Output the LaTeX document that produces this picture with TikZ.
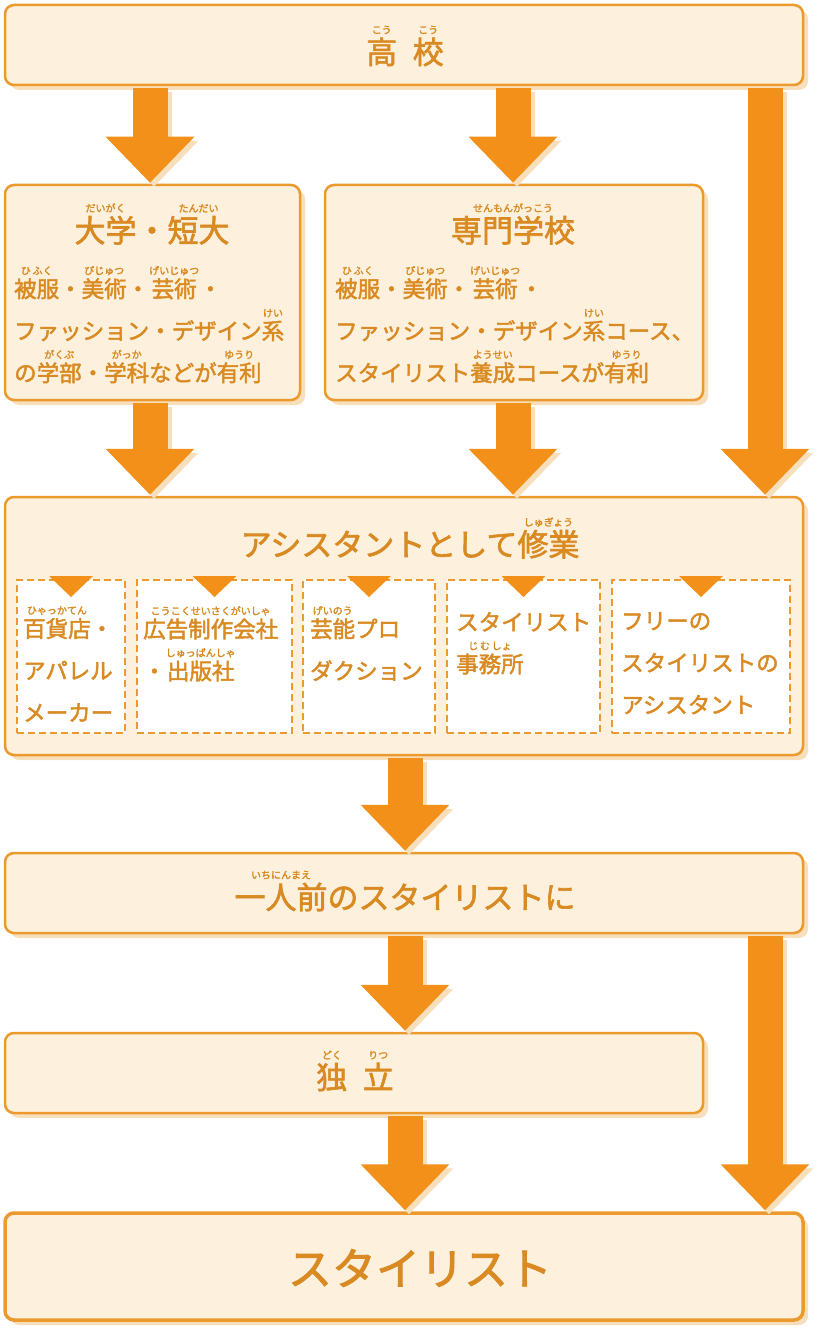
\documentclass[tikz,border=0pt]{standalone}
\usepackage{fontspec}
\setmainfont{Noto Sans CJK JP}[FakeBold=2]
\usetikzlibrary{arrows.meta,shadows}
\definecolor{ob}{HTML}{EC9A2E}
\definecolor{bg}{HTML}{FDF0DC}
\definecolor{ar}{HTML}{F2901A}
\definecolor{tx}{HTML}{D98A22}
\definecolor{shc}{HTML}{F7DFBC}
\newcommand\rb[2]{\leavevmode\vbox{\offinterlineskip\halign{\hfil##\hfil\cr\fontsize{10}{10}\selectfont\strut #2\cr\noalign{\kern1pt}#1\cr}}}
\tikzset{
 box/.style={draw=ob, line width=2.5pt, fill=bg, rounded corners=9pt, inner sep=0pt,
   drop shadow={shadow xshift=5pt, shadow yshift=-5pt, fill=shc, opacity=1}},
 dbox/.style={draw=ob, line width=2pt, dashed, dash pattern=on 7pt off 4pt, fill=white, inner sep=0pt},
 ttl/.style={text=tx, font=\fontsize{31}{34}\selectfont, inner sep=0pt},
 bdy/.style={text=tx, font=\fontsize{22.5}{42}\selectfont, align=left, inner sep=0pt, anchor=north west},
 bigarr/.style={ar, line width=35pt, -{Triangle[width=86pt,length=46pt]}},
 arrsh/.style={shc, line width=35pt, -{Triangle[width=86pt,length=46pt]}, transform canvas={shift={(4pt,-4pt)}}},
 tri/.style={fill=ar, draw=none},
}
\begin{document}
\begin{tikzpicture}[x=1pt,y=-1pt]
\useasboundingbox (0,0) rectangle (819,1337);
% boxes
\node[box, minimum width=798pt, minimum height=80pt] (hs) at (404,45) {};
\node[box, minimum width=295pt, minimum height=215pt] (dg) at (152.5,292.5) {};
\node[box, minimum width=378pt, minimum height=215pt] (sm) at (514,292.5) {};
\node[box, minimum width=798pt, minimum height=258pt] (as) at (404,626) {};
\node[box, minimum width=798pt, minimum height=80pt] (ip) at (404,893) {};
\node[box, minimum width=698pt, minimum height=80pt] (dr) at (354,1073) {};
\node[box, line width=3.5pt, minimum width=798pt, minimum height=107pt] (st) at (404,1266.5) {};
% arrows
\foreach \a/\b/\x in {hs/dg/150, hs/sm/513, dg/as/150, sm/as/513, hs/as/765, as/ip/405, ip/dr/405, dr/st/405, ip/st/765}{
  \draw[arrsh] ([yshift=-1.5pt]\a.south -| \x,0) -- ([yshift=1pt]\b.north -| \x,0);
  \draw[bigarr] ([yshift=-1.5pt]\a.south -| \x,0) -- ([yshift=1pt]\b.north -| \x,0);
}
% texts
\node[ttl] (t1) at (405,46) {\rb{高}{こう}\kern.5em\rb{校}{こう}};
\node[ttl] (t2) at (152,224) {\rb{大学}{だいがく}・\rb{短大}{たんだい}};
\node[bdy] (b2) at (14,266) {\rb{被服}{ひ\,ふく}・\rb{美術}{びじゅつ}・\rb{芸術}{げいじゅつ}・\\ファッション・デザイン\rb{系}{けい}\\の\rb{学部}{がくぶ}・\rb{学科}{がっか}などが\rb{有利}{ゆうり}};
\node[ttl] (t3) at (513,224) {\rb{専門学校}{せんもんがっこう}};
\node[bdy] (b3) at (335,266) {\rb{被服}{ひ\,ふく}・\rb{美術}{びじゅつ}・\rb{芸術}{げいじゅつ}・\\ファッション・デザイン\rb{系}{けい}コース、\\スタイリスト\rb{養成}{ようせい}コースが\rb{有利}{ゆうり}};
\node[ttl] (t4) at (410,538) {アシスタントとして\rb{修業}{しゅぎょう}};
% dashed boxes
\foreach \n/\xa/\xb in {d1/17/125, d2/137/292, d3/303/435, d4/447/600, d5/612/790}{
  \node[dbox, minimum width=\xb-\xa, minimum height=153pt] (\n) at ({(\xa+\xb)/2},656.5) {};
  \fill[tri] ({(\xa+\xb)/2-22},576) -- ({(\xa+\xb)/2+22},576) -- ({(\xa+\xb)/2},597) -- cycle;
}
\node[bdy] (e1) at (23,606) {\rb{百貨店}{ひゃっかてん}・\\アパレル\\メーカー};
\node[bdy] (e2) at (143,606) {\rb{広告制作会社}{こうこくせいさくがいしゃ}\\・\rb{出版社}{しゅっぱんしゃ}};
\node[bdy] (e3) at (310,606) {\rb{芸能}{げいのう}プロ\\ダクション};
\node[bdy] (e4) at (456,612) {スタイリスト\\\rb{事務所}{じ\,む\,しょ}};
\node[bdy] (e5) at (621,612) {フリーの\\スタイリストの\\アシスタント};
\node[ttl] (t5) at (405,891) {\rb{一人前}{いちにんまえ}のスタイリストに};
\node[ttl] (t6) at (355,1071) {\rb{独}{どく}\kern.5em\rb{立}{りつ}};
\node[ttl, font=\fontsize{44}{48}\selectfont] (t7) at (420,1268) {スタイリスト};
\end{tikzpicture}
\end{document}
